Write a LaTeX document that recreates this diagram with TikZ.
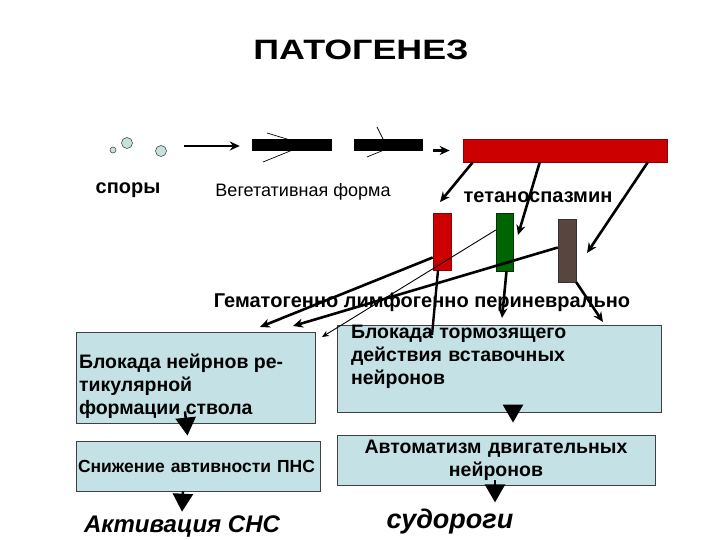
\documentclass[tikz,border=0pt]{standalone}
\usepackage{fontspec}
\setmainfont{Liberation Sans}
\usepackage{tikz}
\usetikzlibrary{positioning, arrows.meta, calc}
\definecolor{boxblue}{HTML}{C4E2E6}
\definecolor{barred}{HTML}{CC0000}
\definecolor{bargreen}{HTML}{006400}
\definecolor{barbrown}{HTML}{594540}
\definecolor{sporefill}{HTML}{C6E2DE}
\tikzset{
  spore/.style={circle, draw=black!70, fill=sporefill, inner sep=0pt, line width=0.6pt},
  rod/.style={rectangle, fill=black, inner sep=0pt, minimum height=12pt},
  toxin/.style={rectangle, draw=red!55!black, fill=barred, inner sep=0pt, line width=0.6pt},
  infobox/.style={rectangle, draw=black!75, fill=boxblue, line width=0.8pt,
                  inner sep=0pt, font=\bfseries\fontsize{19.5}{23}\selectfont},
  lbl/.style={font=\bfseries\fontsize{20}{22}\selectfont},
  arr/.style={-{Stealth[length=10pt,width=9pt]}, line width=2.6pt},
  tarr/.style={-{Stealth[length=7pt,width=6pt]}, line width=0.9pt},
  bigtip/.style={-{Triangle[length=18pt,width=20pt]}, line width=2.5pt},
  flag/.style={line width=0.7pt},
}
\begin{document}
\begin{tikzpicture}[x=1pt, y=-1pt]
    \useasboundingbox[fill=white] (0,0) rectangle (720,540);
    \node[font=\bfseries\fontsize{28}{30}\selectfont] (title) at (361,50)
          {\scalebox{1.28}[1]{ПАТОГЕНЕЗ}};
    % spores and vegetative forms
    \node[spore, minimum size=6pt] (s1) at (113,150) {};
    \node[spore, minimum size=11pt] (s2) at (127,143) {};
    \node[spore, minimum size=11pt] (s3) at (161,151) {};
    \coordinate (sp0) at (184,146);
    \draw[flag] (267,133) -- (300,143); \draw[flag] (263,162) -- (300,147);
    \draw[flag] (377,127) -- (384,141); \draw[flag] (367,157) -- (384,150);
    \node[rod, minimum width=80pt] (veg1) at (292,145) {};
    \node[rod, minimum width=69pt] (veg2) at (388.5,145) {};
    \node[toxin, minimum width=204pt, minimum height=23pt] (tet) at (565,150.5) {};
    \draw[arr, shorten >=12pt] (sp0) -- (sp0 -| veg1.west);
    \draw[arr, shorten <=10pt, shorten >=13pt] (veg2.east |- tet.west) -- (tet.west);
    \node[lbl] (sporlbl) at (128,190) {споры};
    \node[font=\fontsize{18}{22}\selectfont] (veglbl) at (303,192) {Вегетативная форма};
    \node[lbl] (tetlbl) at (538,197) {тетаноспазмин};
    % toxin fractions
    \node[toxin, minimum width=18pt, minimum height=57pt] (rbar) at (442,241.5) {};
    \node[rectangle, fill=bargreen, draw=green!20!black, inner sep=0pt,
          minimum width=17pt, minimum height=58pt] (gbar) at (504.5,242) {};
    \node[rectangle, fill=barbrown, draw=black!80, inner sep=0pt,
          minimum width=18pt, minimum height=63pt] (bbar) at (567,250.5) {};
    \coordinate (t1) at (440,202);
    \coordinate (t2) at (518,235);
    \coordinate (t3) at (587,253);
    \draw[arr] ($(tet.south west)+(10,0)$) -- (t1);
    \draw[arr] ($(tet.south west)+(77,0)$) -- (t2);
    \draw[arr] ($(tet.south west)+(185,0)$) -- (t3);
    \node[font=\bfseries\fontsize{20}{22}\selectfont] (ways) at (422,302)
          {Гематогенно лимфогенно периневрально};
    % boxes
    \node[infobox, minimum width=239pt, minimum height=91pt] (lb1) at (195.5,377.5)
          {\parbox[c][91pt][t]{233pt}{\raggedright\vspace*{22pt}%
           Блокада нейрнов ре-\\тикулярной\\формации ствола}};
    \node[infobox, minimum width=244pt, minimum height=50pt, text width=240pt,
          align=left, font=\bfseries\fontsize{17.5}{20}\selectfont] (lb2) at (198,466)
          {Снижение автивности ПНС};
    \node[infobox, minimum width=324pt, minimum height=84pt, text width=296pt,
          align=left] (rb1) at (499,369)
          {Блокада тормозящего\\действия вставочных\\нейронов\vspace*{24pt}};
    \node[infobox, minimum width=318pt, minimum height=50pt, text width=318pt,
          align=center] (rb2) at (496,460)
          {Автоматизм двигательных\\нейронов};
    \node[font=\bfseries\itshape\fontsize{24}{28}\selectfont] (act) at (182,527)
          {Активация СНС};
    \node[font=\bfseries\itshape\fontsize{27}{30}\selectfont] (sud) at (450,522)
          {судороги};
    % routes of spread
    \coordinate (l1) at (260,327);
    \coordinate (l2) at (293,326);
    \coordinate (l3) at (322,337);
    \coordinate (d1) at (432,335);
    \coordinate (d2) at (502,318);
    \coordinate (d3) at (603,322);
    \draw[arr] ($(rbar.west)+(0,16)$) -- (l1);
    \draw[arr] ($(bbar.west)+(0,-3)$) -- (l2);
    \draw[tarr] ($(gbar.west)+(0,-12)$) -- (l3);
    \draw[line width=2.4pt] ($(rbar.south)+(-4,0)$) -- (d1);
    \draw[arr] ($(gbar.south)+(2,0)$) -- (d2);
    \draw[arr] (bbar.south east) -- (d3);
    % cascades
    \draw[bigtip] ([xshift=-10.5pt, yshift=12pt]lb1.south) -- ([xshift=-10.5pt, yshift=5pt]lb2.north);
    \draw[bigtip] ([xshift=-15pt]lb2.south) -- ([yshift=1pt]act.north);
    \draw[bigtip] ([xshift=14pt, yshift=7pt]rb1.south) -- ([xshift=17pt, yshift=12pt]rb2.north);
    \draw[bigtip] ([xshift=-1pt, yshift=5pt]rb2.south) -- ([xshift=-1pt, yshift=-17pt]rb2.south);
\end{tikzpicture}
\end{document}
